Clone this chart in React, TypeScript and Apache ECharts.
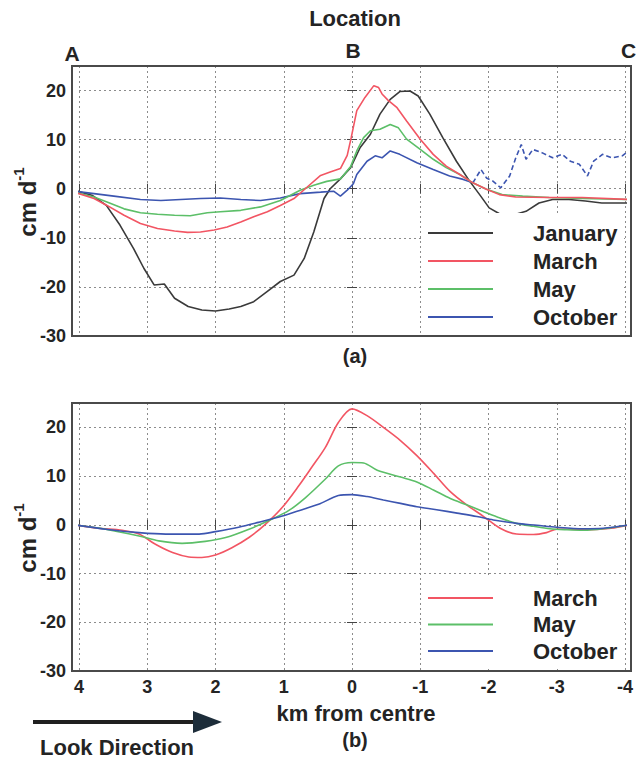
import React, { useEffect, useRef } from "react";
import * as echarts from "echarts";

// ---------- data (km from centre, cm d^-1) ----------
const seriesNames = ["January", "March", "May", "October"];
const bottomNames = ["March", "May", "October"];
const kmTickLabels = ["4", "3", "2", "1", "0", "-1", "-2", "-3", "-4"];
const locationLabels = ["A", "B", "C"];

const janTop: [number, number][] = [
  [4.07, -0.3], [3.8, -1.4], [3.6, -3.4], [3.4, -7.4], [3.2, -12.2], [3.05, -16.2], [2.9, -19.6],
  [2.75, -19.4], [2.6, -22.3], [2.4, -24.0], [2.2, -24.7], [2.0, -24.9], [1.8, -24.5], [1.63, -24.0],
  [1.44, -23.0], [1.24, -20.9], [1.05, -18.9], [0.85, -17.6], [0.7, -14.2], [0.56, -8.8], [0.41, -2.0],
  [0.32, 0], [0.17, 2.0], [0.02, 4.3], [-0.12, 8.4], [-0.27, 11.1], [-0.41, 15.2], [-0.56, 18.2],
  [-0.7, 19.8], [-0.85, 19.9], [-0.97, 18.9], [-1.14, 15.2], [-1.33, 10.4], [-1.53, 5.6], [-1.72, 1.6],
  [-1.87, -1.2], [-2.01, -3.9], [-2.16, -5.1], [-2.35, -5.4], [-2.55, -4.6], [-2.74, -2.9], [-2.94, -2.2],
  [-3.18, -2.2], [-3.42, -2.5], [-3.66, -2.9], [-4.07, -2.9],
];
const marTop: [number, number][] = [
  [4.07, -0.7], [3.78, -2.0], [3.59, -3.4], [3.34, -5.4], [3.1, -7.1], [2.85, -8.1], [2.6, -8.6],
  [2.41, -8.9], [2.22, -8.8], [2.02, -8.4], [1.83, -7.8], [1.63, -6.8], [1.44, -5.7], [1.24, -4.7],
  [1.05, -3.4], [0.85, -2.0], [0.66, 0.3], [0.46, 2.7], [0.32, 3.4], [0.17, 4.1], [0.07, 6.8],
  [0.01, 10.5], [-0.07, 15.9], [-0.19, 18.6], [-0.32, 21.0], [-0.39, 20.6], [-0.44, 19.3], [-0.53, 18.0],
  [-0.66, 16.5], [-0.8, 13.8], [-1.0, 10.1], [-1.19, 7.0], [-1.38, 4.6], [-1.58, 2.9], [-1.77, 1.2],
  [-1.97, -0.1], [-2.16, -1.2], [-2.4, -1.7], [-2.89, -1.8], [-3.37, -1.8], [-4.07, -2.2],
];
const mayTop: [number, number][] = [
  [4.07, -0.7], [3.78, -1.7], [3.59, -2.7], [3.34, -4.1], [3.1, -4.9], [2.85, -5.2], [2.6, -5.4],
  [2.37, -5.5], [2.12, -4.9], [1.93, -4.7], [1.63, -4.4], [1.34, -3.7], [1.05, -2.4], [0.76, -0.3],
  [0.56, 0.7], [0.37, 1.5], [0.17, 2.0], [0.02, 4.5], [-0.07, 7.7], [-0.17, 10.4], [-0.27, 11.8],
  [-0.41, 12.1], [-0.56, 13.1], [-0.68, 12.4], [-0.8, 10.1], [-1.0, 8.0], [-1.19, 6.0], [-1.38, 4.3],
  [-1.58, 2.9], [-1.77, 1.2], [-1.97, -0.1], [-2.2, -1.2], [-2.5, -1.5], [-2.89, -1.8], [-3.37, -2.0],
  [-4.07, -2.2],
];
const octTop: [number, number][] = [
  [4.07, -0.5], [3.78, -1.0], [3.49, -1.5], [3.1, -2.2], [2.8, -2.4], [2.51, -2.2], [2.22, -2.0],
  [1.93, -1.9], [1.63, -2.2], [1.34, -2.4], [1.05, -1.9], [0.76, -1.0], [0.46, -0.7], [0.27, -0.5],
  [0.17, -1.5], [0.07, -0.3], [-0.02, 1.0], [-0.07, 2.9], [-0.22, 5.6], [-0.34, 6.7], [-0.44, 6.3],
  [-0.56, 7.7], [-0.7, 7.0], [-0.95, 5.3], [-1.19, 3.9], [-1.43, 2.6], [-1.63, 1.9], [-1.77, 1.2],
];
const octTopTail: [number, number][] = [
  [-1.77, 1.2], [-1.89, 3.9], [-1.97, 2.2], [-2.06, 1.6], [-2.18, 0.2], [-2.31, 2.6], [-2.4, 6.3],
  [-2.48, 9.0], [-2.55, 6.0], [-2.65, 8.0], [-2.79, 7.3], [-2.94, 6.3], [-3.08, 7.0], [-3.2, 5.6],
  [-3.33, 5.0], [-3.45, 2.6], [-3.54, 5.6], [-3.67, 7.0], [-3.81, 6.3], [-3.96, 6.7], [-4.05, 7.7],
];
const marBot: [number, number][] = [
  [4.07, 0], [3.71, -0.7], [3.37, -1.1], [3.12, -1.9], [2.88, -4.0], [2.63, -5.7], [2.39, -6.6],
  [2.2, -6.7], [2.0, -6.2], [1.76, -4.7], [1.51, -2.6], [1.27, 0.1], [1.02, 3.6], [0.78, 8.0],
  [0.59, 11.8], [0.39, 15.9], [0.2, 21.0], [0.0, 23.8], [-0.22, 22.4], [-0.46, 20.0], [-0.71, 17.3],
  [-0.95, 14.2], [-1.2, 10.5], [-1.44, 6.8], [-1.68, 4.1], [-1.93, 1.7], [-2.17, -0.7], [-2.41, -1.9],
  [-2.66, -2.0], [-2.85, -1.6], [-3.0, -0.9], [-3.2, -0.9], [-3.5, -1.0], [-3.8, -0.7], [-4.07, 0],
];
const mayBot: [number, number][] = [
  [4.07, 0], [3.61, -0.9], [3.12, -2.3], [2.83, -3.3], [2.49, -3.8], [2.15, -3.4], [1.85, -2.6],
  [1.51, -0.9], [1.17, 1.2], [0.93, 2.9], [0.68, 5.6], [0.39, 9.4], [0.2, 12.1], [0.0, 12.8],
  [-0.17, 12.7], [-0.37, 11.2], [-0.71, 9.8], [-0.95, 8.8], [-1.2, 7.1], [-1.44, 5.4], [-1.68, 4.1],
  [-1.93, 2.7], [-2.17, 1.4], [-2.41, 0.3], [-2.66, -0.3], [-2.9, -0.8], [-3.15, -1.0], [-3.39, -1.1],
  [-3.68, -0.8], [-4.07, 0],
];
const octBot: [number, number][] = [
  [4.07, 0], [3.61, -0.9], [3.12, -1.6], [2.73, -1.9], [2.24, -1.9], [2.0, -1.4], [1.66, -0.5],
  [1.37, 0.5], [1.07, 1.6], [0.78, 2.9], [0.49, 4.2], [0.2, 6.0], [0.0, 6.2], [-0.22, 5.8],
  [-0.46, 5.1], [-0.71, 4.4], [-0.95, 3.7], [-1.24, 3.1], [-1.54, 2.4], [-1.83, 1.7], [-2.07, 1.0],
  [-2.41, 0.3], [-2.71, -0.1], [-3.0, -0.5], [-3.39, -0.8], [-3.68, -0.7], [-4.07, 0],
];

// ---------- styling ----------
const FONT = '"Liberation Sans", Arial, Helvetica, sans-serif';
const TXT = "#242424";
const COLORS: Record<string, string> = {
  January: "#3a3a3a",
  March: "#f25563",
  May: "#5cbf68",
  October: "#3c55b0",
};

export default function App() {
  const ref = useRef<HTMLDivElement>(null);

  useEffect(() => {
    if (!ref.current) return;
    const chart = echarts.init(ref.current, undefined, { renderer: "svg" });

    const grids = [
      { left: 79, top: 66, width: 546, height: 270 },
      { left: 79, top: 403, width: 546, height: 268 },
    ];

    const splitLine = { show: true, lineStyle: { color: "#8c8c8c", width: 1, type: [2, 3] as any } };
    const tick = { show: true, inside: true, length: 5, lineStyle: { color: "#444", width: 1 } };

    const xAxes: any[] = [];
    const yAxes: any[] = [];
    [0, 1].forEach((g) => {
      xAxes.push({
        type: "value", gridIndex: g, min: -4, max: 4, interval: 1, inverse: true, position: "bottom",
        axisLine: { show: false }, axisTick: tick, splitLine,
        axisLabel: {
          show: g === 1, margin: 7, fontSize: 18, fontWeight: "bold", color: TXT, fontFamily: FONT,
          formatter: (v: number) => kmTickLabels[4 - v] ?? "",
        },
      });
      xAxes.push({
        type: "value", gridIndex: g, min: -4, max: 4, interval: 1, inverse: true, position: "top",
        axisLine: { show: false }, axisTick: tick, splitLine: { show: false }, axisLabel: { show: false },
      });
      yAxes.push({
        type: "value", gridIndex: g, min: -30, max: 25, interval: 10, position: "left",
        axisLine: { show: false }, axisTick: tick, splitLine,
        axisLabel: {
          margin: 13, fontSize: 18, fontWeight: "bold", color: TXT, fontFamily: FONT,
          formatter: (v: number) => (v % 10 === 0 ? String(v) : ""),
        },
      });
      yAxes.push({
        type: "value", gridIndex: g, min: -30, max: 25, interval: 10, position: "right",
        axisLine: { show: false }, axisTick: tick, splitLine: { show: false }, axisLabel: { show: false },
      });
    });

    const line = (name: string, data: [number, number][], panel: number, extra: any = {}) => ({
      type: "line", name, data, xAxisIndex: panel * 2, yAxisIndex: panel * 2,
      symbol: "none", clip: false, silent: true,
      lineStyle: { color: COLORS[name], width: 1.6, ...(extra.lineStyle || {}) },
      itemStyle: { color: COLORS[name] },
      smooth: extra.smooth ?? false,
      z: extra.z ?? 3,
    });

    const legendText = {
      fontSize: 22, fontWeight: "bold", color: TXT, fontFamily: FONT, lineHeight: 24,
      padding: [0, 0, 0, 35],
    };

    const graphicText = (text: string, x: number, y: number, size: number, align = "center") => ({
      type: "text", x, y, z: 20,
      style: { text, fontSize: size, fontWeight: "bold", fill: TXT, fontFamily: FONT, align, verticalAlign: "middle" },
    });

    const yName = (y: number) => ({
      type: "text", x: 25, y, rotation: Math.PI / 2, z: 20,
      style: {
        text: "{m|cm d}{s|-1}", align: "center", verticalAlign: "middle", fill: TXT,
        rich: {
          m: { fontSize: 24, fontWeight: "bold", fontFamily: FONT, fill: TXT, lineHeight: 28, verticalAlign: "bottom" },
          s: { fontSize: 15, fontWeight: "bold", fontFamily: FONT, fill: TXT, lineHeight: 28, verticalAlign: "top" },
        },
      },
    });

    chart.setOption({
      animation: false,
      backgroundColor: "#fff",
      grid: grids,
      xAxis: xAxes,
      yAxis: yAxes,
      legend: [
        {
          data: seriesNames, orient: "vertical", left: 422, top: 213, padding: [8, 6, 6, 6],
          backgroundColor: "#fff", icon: "rect", itemWidth: 65, itemHeight: 2, itemGap: 4,
          selectedMode: false, textStyle: legendText,
        },
        {
          data: bottomNames, orient: "vertical", left: 422, top: 578, padding: [8, 6, 6, 6],
          backgroundColor: "#fff", icon: "rect", itemWidth: 65, itemHeight: 2, itemGap: 2.5,
          selectedMode: false, textStyle: legendText,
        },
      ],
      series: [
        line("January", janTop, 0),
        line("October", octTop, 0, { z: 3 }),
        line("October", octTopTail, 0, { lineStyle: { type: [5, 3] }, z: 3 }),
        line("May", mayTop, 0, { z: 4 }),
        line("March", marTop, 0, { z: 5 }),
        line("March", marBot, 1, { smooth: 0.3, z: 3 }),
        line("May", mayBot, 1, { smooth: 0.3, z: 4 }),
        line("October", octBot, 1, { smooth: 0.3, z: 5 }),
      ],
      graphic: [
        {
          type: "rect", z: 15, shape: { x: 72, y: 66, width: 559, height: 270 },
          style: { fill: "none", stroke: "#4a4a4a", lineWidth: 2 }, silent: true,
        },
        {
          type: "rect", z: 15, shape: { x: 72, y: 403, width: 559, height: 268 },
          style: { fill: "none", stroke: "#4a4a4a", lineWidth: 2 }, silent: true,
        },
        graphicText("Location", 355, 18, 22),
        graphicText(locationLabels[0], 72, 53, 21),
        graphicText(locationLabels[1], 353, 50, 21),
        graphicText(locationLabels[2], 621, 50, 21, "left"),
        graphicText("(a)", 355, 356, 20),
        graphicText("km from centre", 356, 713, 22),
        graphicText("(b)", 355, 740, 20),
        graphicText("Look Direction", 40, 747, 22, "left"),
        yName(202),
        yName(538),
        {
          type: "line", z: 20, shape: { x1: 33, y1: 722, x2: 200, y2: 722 },
          style: { stroke: "#1f1f1f", lineWidth: 4 },
        },
        {
          type: "polygon", z: 21, shape: { points: [[193, 711], [222, 722], [193, 733]] },
          style: { fill: "#1d2d3a" },
        },
      ],
    });

    return () => chart.dispose();
  }, []);

  return (
    <div
      ref={ref}
      style={{ position: "absolute", left: 0, top: 0, width: 638, height: 766 }}
    />
  );
}
